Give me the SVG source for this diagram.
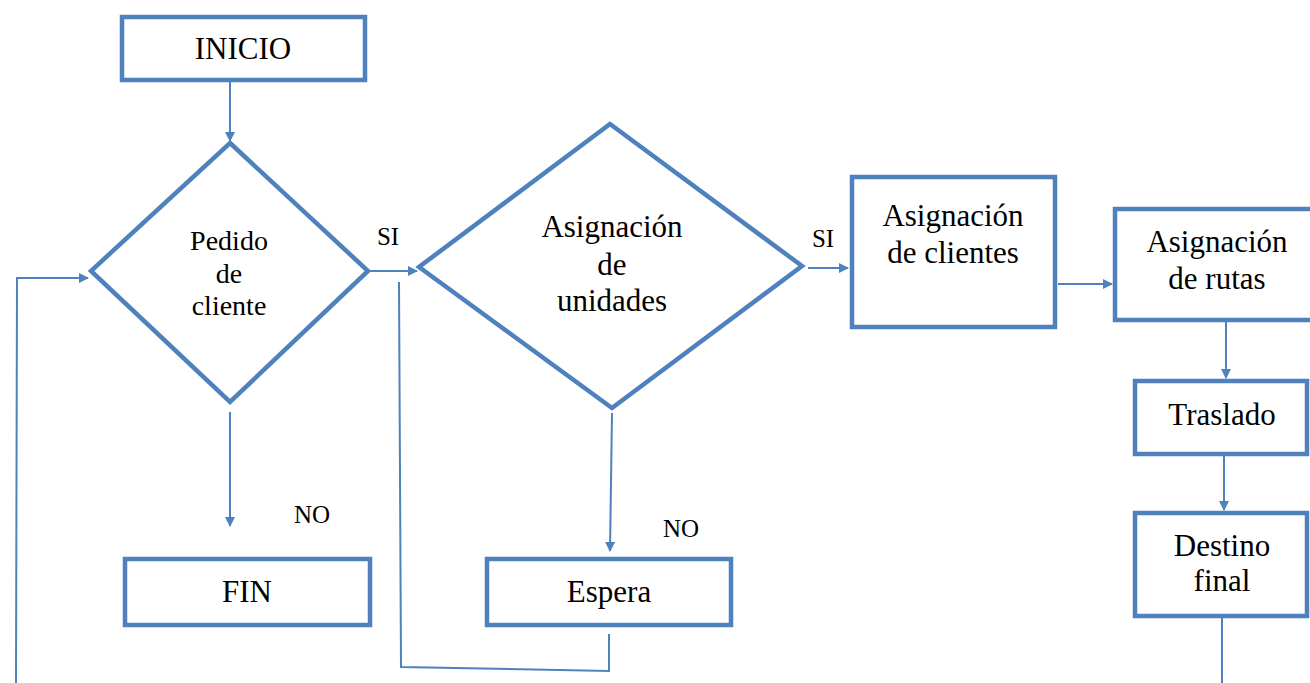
<svg xmlns="http://www.w3.org/2000/svg" width="1310" height="683" viewBox="0 0 1310 683">
<defs>
<marker id="ah" markerWidth="10" markerHeight="10" refX="9" refY="5" orient="auto" markerUnits="userSpaceOnUse" viewBox="0 0 10 10">
<path d="M0,0 L10,5 L0,10 Z" fill="#4F81BD"/>
</marker>
<style>
.box{fill:#fff;stroke:#4F81BD;stroke-width:4.5}
.dia{fill:#fff;stroke:#4F81BD;stroke-width:4.5}
.ln{fill:none;stroke:#4F81BD;stroke-width:2}
</style>
</defs>
<rect width="1310" height="683" fill="#fff"/>
<g id="connectors">
<path class="ln" d="M230,81 V141" marker-end="url(#ah)"/>
<path class="ln" d="M230,412 V526" marker-end="url(#ah)"/>
<path class="ln" d="M369,271 H417" marker-end="url(#ah)"/>
<path class="ln" d="M612,413 L610,551" marker-end="url(#ah)"/>
<path class="ln" d="M609,634 V671 L401,667 L399,282"/>
<path class="ln" d="M16,683 L17,278 H88" marker-end="url(#ah)"/>
<path class="ln" d="M808,268 H848" marker-end="url(#ah)"/>
<path class="ln" d="M1058,284 H1112" marker-end="url(#ah)"/>
<path class="ln" d="M1226,321 V378" marker-end="url(#ah)"/>
<path class="ln" d="M1224,456 V510" marker-end="url(#ah)"/>
<path class="ln" d="M1222,618 V683"/>
<g font-family="'Liberation Serif', 'Times New Roman', serif" font-size="25" text-anchor="middle" fill="#000">
<text x="388" y="245">SI</text>
<text x="312" y="523">NO</text>
<text x="823" y="247">SI</text>
<text x="681" y="537">NO</text>
</g>
</g>
<g font-family="'Liberation Serif', 'Times New Roman', serif" font-size="31" text-anchor="middle" fill="#000">
<g id="inicio">
<rect class="box" x="122" y="17" width="243" height="63"/>
<text x="243" y="59">INICIO</text>
</g>
<g id="pedido">
<polygon class="dia" points="230,143 368,271 230,402 91,271"/>
<text x="229" y="250" font-size="28">Pedido</text>
<text x="229" y="283" font-size="28">de</text>
<text x="229" y="315" font-size="28">cliente</text>
</g>
<g id="fin">
<rect class="box" x="125" y="559" width="245" height="66"/>
<text x="247" y="602">FIN</text>
</g>
<g id="asig-unidades">
<polygon class="dia" points="610,124 802,266 612,408 419,267"/>
<text x="612" y="237">Asignación</text>
<text x="612" y="275">de</text>
<text x="612" y="311">unidades</text>
</g>
<g id="espera">
<rect class="box" x="487" y="559" width="244" height="66"/>
<text x="609" y="602">Espera</text>
</g>
<g id="asig-clientes">
<rect class="box" x="852" y="177" width="203" height="150"/>
<text x="953" y="226">Asignación</text>
<text x="953" y="263">de clientes</text>
</g>
<g id="asig-rutas">
<rect class="box" x="1115" y="209" width="200" height="111"/>
<text x="1217" y="252">Asignación</text>
<text x="1217" y="289">de rutas</text>
</g>
<g id="traslado">
<rect class="box" x="1135" y="381" width="172" height="73"/>
<text x="1222" y="425">Traslado</text>
</g>
<g id="destino">
<rect class="box" x="1135" y="513" width="172" height="103"/>
<text x="1222" y="556">Destino</text>
<text x="1222" y="591">final</text>
</g>
</g>
</svg>
